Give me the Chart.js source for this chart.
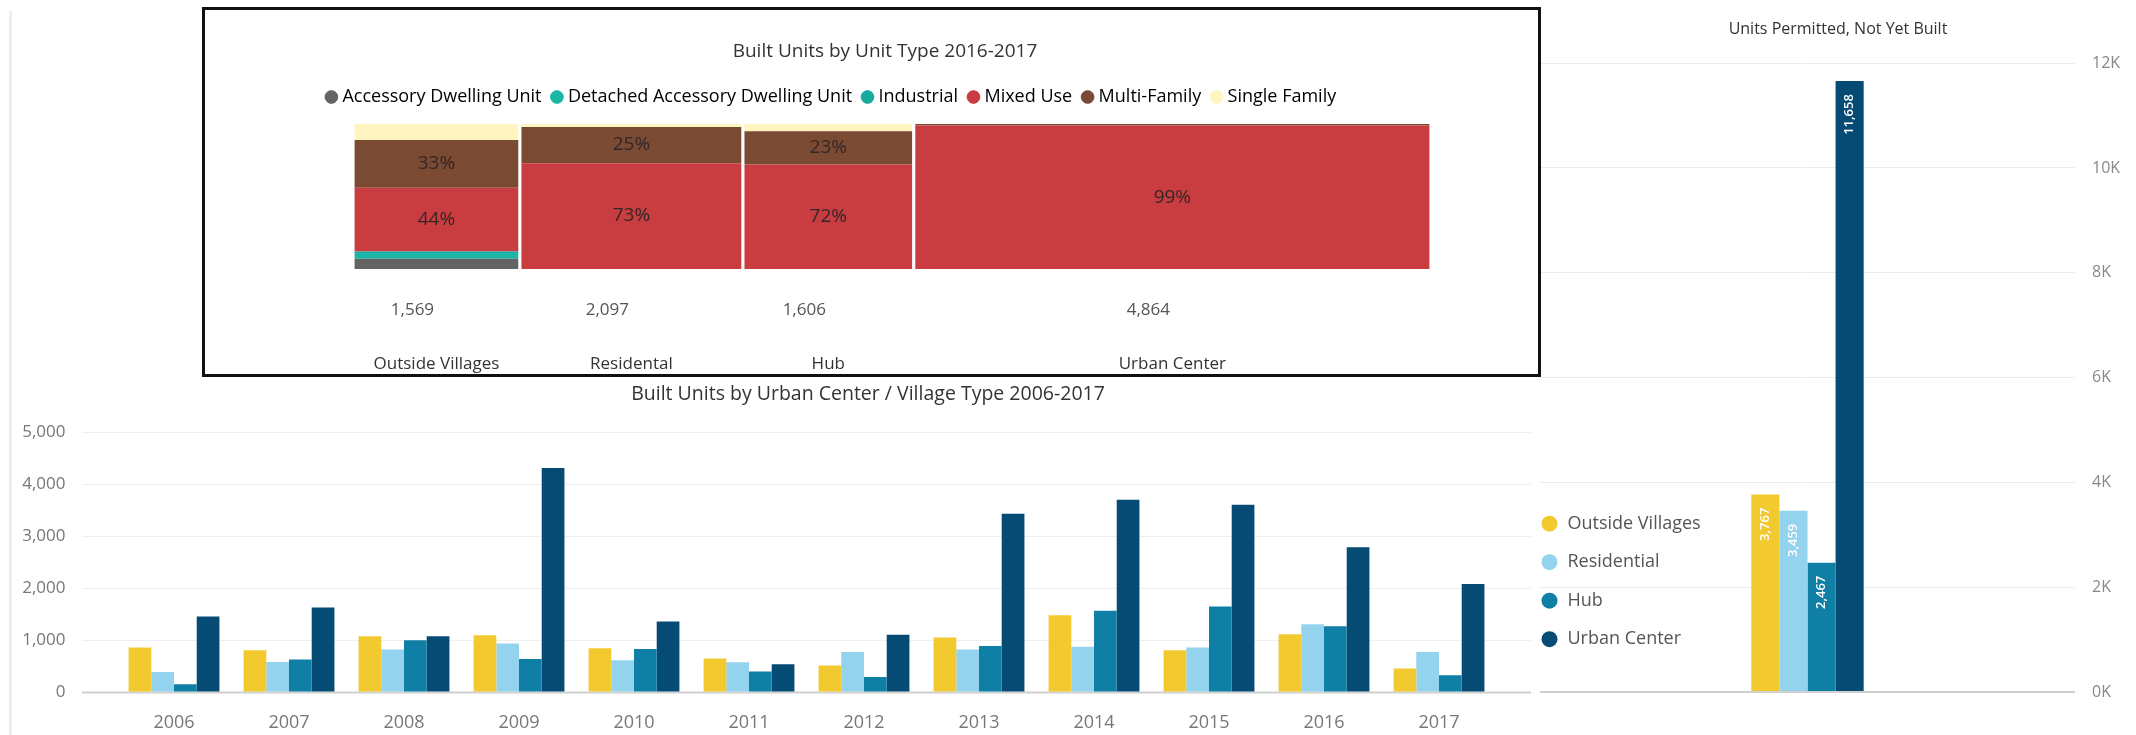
<!DOCTYPE html>
<html>
<head>
<meta charset="utf-8">
<title>Built units dashboard</title>
<script src="https://cdn.jsdelivr.net/npm/chart.js@4.4.0/dist/chart.umd.min.js"></script>
<style>
  body { margin: 0; background: #fff; width: 2136px; height: 735px; overflow: hidden; position: relative; }
  canvas { display: block; }
  .edge { position: absolute; left: 9px; top: 11px; width: 3px; height: 724px; background: #eeeeee; }
  #villageWrap { position: absolute; left: 0; top: 378px; z-index: 1; }
  #permitWrap { position: absolute; left: 1540px; top: 0; z-index: 2; }
  #typeBox { position: absolute; left: 202px; top: 7px; width: 1339px; height: 370px; border: 3px solid #111; box-sizing: border-box; background: #fff; z-index: 3; }
</style>
</head>
<body>
<div class="edge"></div>
<div id="villageWrap"><canvas id="villageChart" width="1736" height="357"></canvas></div>
<div id="permitWrap"><canvas id="permitChart" width="596" height="735"></canvas></div>
<div id="typeBox"><canvas id="typeChart" width="1333" height="364"></canvas></div>
<script>
Chart.defaults.font.family = '"Open Sans", sans-serif';
Chart.defaults.font.size = 16;
Chart.defaults.animation = false;

// built units by unit type 2016-2017 (share of each column, %)
const areaTypes = ["Outside Villages", "Residental", "Hub", "Urban Center"];
const builtTotals = [1569, 2097, 1606, 4864];
const unitTypes = ["Accessory Dwelling Unit", "Detached Accessory Dwelling Unit", "Industrial", "Mixed Use", "Multi-Family", "Single Family"];
const accessoryPct = [7, 0, 0, 0];
const detachedPct = [4, 0, 0, 0];
const industrialPct = [1, 0, 0, 0];
const mixedUsePct = [44, 73, 72, 99];
const multiFamilyPct = [33, 25, 23, 1];
const singleFamilyPct = [11, 2, 5, 0];

// built units by urban center / village type
const years = ["2006", "2007", "2008", "2009", "2010", "2011", "2012", "2013", "2014", "2015", "2016", "2017"];
const outsideVillages = [855, 803, 1073, 1093, 842, 643, 508, 1048, 1478, 803, 1112, 450];
const residential = [386, 578, 816, 932, 611, 572, 771, 816, 868, 855, 1305, 771];
const hub = [148, 623, 996, 636, 829, 392, 289, 887, 1562, 1646, 1266, 321];
const urbanCenter = [1453, 1626, 1073, 4306, 1356, 533, 1099, 3426, 3696, 3600, 2783, 2076];

// units permitted, not yet built
const villageTypes = ["Outside Villages", "Residential", "Hub", "Urban Center"];
const permittedUnits = [3767, 3459, 2467, 11658];

const unitColors = ["#636363", "#1cb5a6", "#17aa9e", "#c93d40", "#7b4a33", "#fff5c0"];
const villageColors = ["#f3c930", "#93d3ee", "#0f7fa6", "#064b73"];

// ---- top: marimekko of unit types ----
const unitShares = [accessoryPct, detachedPct, industrialPct, mixedUsePct, multiFamilyPct, singleFamilyPct];
const grandTotal = builtTotals.reduce((a, b) => a + b, 0);
const columnGap = 30;
const columnCenters = [];
const typeDatasets = [];
let runStart = 0;
builtTotals.forEach((total, c) => {
  const x0 = runStart + columnGap / 2;
  const x1 = runStart + total - columnGap / 2;
  columnCenters.push(runStart + total / 2);
  let base = 0;
  unitShares.forEach((shares, t) => {
    const pct = shares[c];
    if (pct <= 0) return;
    const top = base + pct;
    typeDatasets.push({
      label: unitTypes[t],
      data: [{x: x0, y: base}, {x: x1, y: base}, {x: x1, y: top}, {x: x0, y: top}, {x: x0, y: base}],
      backgroundColor: unitColors[t],
      borderColor: "rgba(0,0,0,0)",
      borderWidth: 0,
      pointRadius: 0,
      pointHoverRadius: 0,
      fill: "shape",
      share: pct
    });
    base = top;
  });
  runStart += total;
});

// percent inside big segments + column totals under the columns
const shareLabels = {
  id: "shareLabels",
  afterDatasetsDraw(chart) {
    const {ctx, chartArea, scales: {x, y}} = chart;
    ctx.save();
    ctx.textAlign = "center";
    ctx.textBaseline = "middle";
    ctx.font = '19px "Open Sans"';
    ctx.fillStyle = "#332626";
    chart.data.datasets.forEach(ds => {
      if (ds.share < 20) return;
      const p = ds.data;
      ctx.fillText(ds.share + "%", x.getPixelForValue((p[0].x + p[1].x) / 2), y.getPixelForValue((p[0].y + p[2].y) / 2));
    });
    ctx.font = '17px "Open Sans"';
    ctx.fillStyle = "#555";
    builtTotals.forEach((t, i) => {
      ctx.fillText(t.toLocaleString("en-US"), x.getPixelForValue(columnCenters[i]) - 24, chartArea.bottom + 41);
    });
    ctx.restore();
  }
};

new Chart(document.getElementById("typeChart"), {
  type: "line",
  data: { datasets: typeDatasets },
  options: {
    responsive: false,
    layout: { padding: { left: 111, right: 84 } },
    plugins: {
      title: {
        display: true,
        text: "Built Units by Unit Type 2016-2017",
        color: "#333",
        font: { size: 19, weight: "normal" },
        padding: { top: 30.6, bottom: 11.2 }
      },
      legend: {
        align: "start",
        onClick: null,
        labels: {
          usePointStyle: true,
          boxWidth: 4,
          boxHeight: 9,
          padding: 13.4,
          color: "#444",
          font: { size: 18 },
          generateLabels: () => unitTypes.map((t, i) => ({
            text: t, fillStyle: unitColors[i], strokeStyle: unitColors[i], lineWidth: 1, pointStyle: "circle", hidden: false
          }))
        }
      },
      tooltip: { enabled: false }
    },
    scales: {
      x: {
        type: "linear", min: 0, max: grandTotal,
        grid: { display: false }, border: { display: false },
        afterBuildTicks: s => { s.ticks = columnCenters.map(v => ({ value: v })); },
        afterFit: s => { s.height = 105; },
        ticks: {
          autoSkip: false, maxRotation: 0, minRotation: 0, padding: 77, color: "#333",
          font: { size: 17 },
          callback: (v, i) => areaTypes[i]
        }
      },
      y: {
        min: 0, max: 100,
        ticks: { display: false }, grid: { display: false }, border: { display: false },
        afterFit: s => { s.width = 37; }
      },
      yRight: {
        type: "linear", position: "right",
        ticks: { display: false }, grid: { display: false }, border: { display: false },
        afterFit: s => { s.width = 23; }
      },
      xTop: {
        type: "linear", position: "top",
        ticks: { display: false }, grid: { display: false }, border: { display: false },
        afterFit: s => { s.height = 8; }
      }
    }
  },
  plugins: [shareLabels]
});

// ---- bottom: yearly built units ----
const villageSeries = [outsideVillages, residential, hub, urbanCenter];

const villageGrid = {
  id: "villageGrid",
  beforeDatasetsDraw(chart) {
    const {ctx, chartArea, scales: {y}} = chart;
    ctx.save();
    y.ticks.forEach(t => {
      const py = Math.round(y.getPixelForValue(t.value)) + 0.5;
      ctx.strokeStyle = t.value === 0 ? "#cfcfcf" : "#efefef";
      ctx.lineWidth = t.value === 0 ? 2 : 1;
      ctx.beginPath();
      ctx.moveTo(chartArea.left - 34.5, py);
      ctx.lineTo(chartArea.right + 34.5, py);
      ctx.stroke();
    });
    ctx.restore();
  }
};

const villageLegend = {
  id: "villageLegend",
  afterDraw(chart) {
    const {ctx, chartArea} = chart;
    ctx.save();
    ctx.font = '18px "Open Sans"';
    ctx.textBaseline = "middle";
    ctx.textAlign = "left";
    chart.data.datasets.forEach((ds, i) => {
      const cy = chartArea.top + 91.7 + i * 38.5;
      ctx.fillStyle = ds.backgroundColor;
      ctx.beginPath();
      ctx.arc(chartArea.right + 53, cy, 8, 0, Math.PI * 2);
      ctx.fill();
      ctx.fillStyle = "#555";
      ctx.fillText(ds.label, chartArea.right + 71, cy);
    });
    ctx.restore();
  }
};

new Chart(document.getElementById("villageChart"), {
  type: "bar",
  data: {
    labels: years,
    datasets: villageSeries.map((d, i) => ({
      label: villageTypes[i], data: d, backgroundColor: villageColors[i],
      categoryPercentage: 0.79, barPercentage: 1
    }))
  },
  options: {
    responsive: false,
    plugins: {
      legend: { display: false },
      tooltip: { enabled: false },
      title: {
        display: true,
        text: "Built Units by Urban Center / Village Type 2006-2017",
        color: "#333",
        font: { size: 19.5, weight: "normal" },
        padding: { top: 5, bottom: 25.6 }
      }
    },
    scales: {
      x: {
        grid: { display: false }, border: { display: false },
        ticks: { color: "#777", padding: 12, font: { size: 18 } },
        afterFit: s => { s.height = 43; }
      },
      y: {
        min: 0, max: 5000,
        ticks: { stepSize: 1000, color: "#777", padding: 4, font: { size: 17 }, callback: v => v.toLocaleString("en-US") },
        // invisible tick marks push the labels away from the plot
        grid: { display: true, drawOnChartArea: false, drawTicks: true, tickLength: 47, color: "rgba(0,0,0,0)" },
        border: { display: false },
        afterFit: s => { s.width = 116.5; }
      },
      side: {
        type: "linear", position: "right",
        ticks: { display: false }, grid: { display: false }, border: { display: false },
        afterFit: s => { s.width = 239.5; }
      }
    }
  },
  plugins: [villageGrid, villageLegend]
});

// ---- right: permitted, not yet built ----
const permitLabels = {
  id: "permitLabels",
  afterDatasetsDraw(chart) {
    const {ctx} = chart;
    ctx.save();
    ctx.font = '600 13px "Open Sans"';
    ctx.fillStyle = "#fff";
    ctx.textAlign = "right";
    ctx.textBaseline = "middle";
    chart.data.datasets.forEach((ds, i) => {
      const bar = chart.getDatasetMeta(i).data[0];
      ctx.save();
      ctx.translate(bar.x, bar.y + 13);
      ctx.rotate(-Math.PI / 2);
      ctx.fillText(ds.data[0].toLocaleString("en-US"), 0, 0);
      ctx.restore();
    });
    ctx.restore();
  }
};

new Chart(document.getElementById("permitChart"), {
  type: "bar",
  data: {
    labels: ["Units"],
    datasets: villageTypes.map((t, i) => ({
      label: t, data: [permittedUnits[i]], backgroundColor: villageColors[i],
      categoryPercentage: 0.21, barPercentage: 1
    }))
  },
  options: {
    responsive: false,
    layout: { padding: { bottom: 43 } },
    plugins: {
      legend: { display: false },
      tooltip: { enabled: false },
      title: {
        display: true,
        text: "Units Permitted, Not Yet Built",
        color: "#333",
        font: { size: 16, weight: "normal" },
        padding: { top: 20, bottom: 24 }
      }
    },
    scales: {
      x: { display: false },
      y: {
        position: "right", min: 0, max: 12000,
        ticks: { stepSize: 2000, color: "#888", padding: 17, callback: v => (v / 1000) + "K" },
        grid: {
          drawTicks: false,
          color: c => c.tick.value === 0 ? "#cfcfcf" : "#ececec",
          lineWidth: c => c.tick.value === 0 ? 2 : 1
        },
        border: { display: false },
        afterFit: s => { s.width = 61; }
      }
    }
  },
  plugins: [permitLabels]
});
</script>
</body>
</html>
